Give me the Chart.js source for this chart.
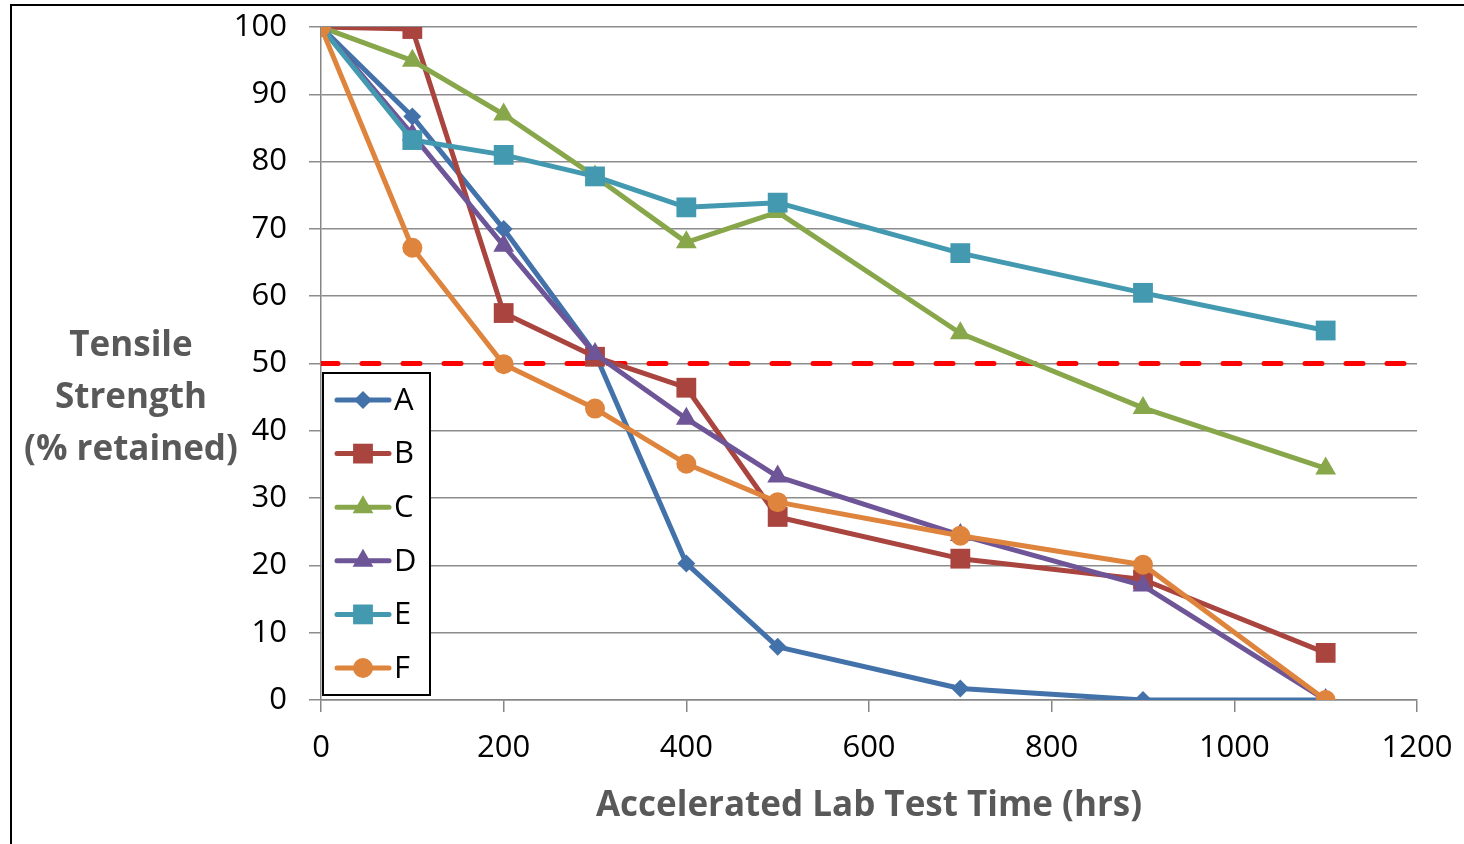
<!DOCTYPE html>
<html>
<head>
<meta charset="utf-8">
<script src="https://cdn.jsdelivr.net/npm/chart.js@4.4.1/dist/chart.umd.min.js"></script>
<style>
  html, body { margin: 0; padding: 0; background: #fff; overflow: hidden; }
  #frame { position: absolute; left: 10px; top: 4px; width: 1600px; height: 1000px; border: 2px solid #000; pointer-events: none; }
  #wrap { position: absolute; left: 0; top: 0; width: 1464px; height: 844px; }
</style>
</head>
<body>
<div id="wrap"><canvas id="tensileChart" width="1464" height="844"></canvas></div>
<div id="frame"></div>
<script>
// test times (hrs)
const hours = [0, 100, 200, 300, 400, 500, 700, 900, 1100];

// tensile strength retained (%) per sample
const seriesA = [100, 86.7, 70.0, 51.5, 20.3, 7.9, 1.7, 0, 0];
const seriesB = [100, 99.7, 57.5, 51.0, 46.4, 27.2, 21.0, 17.9, 7.0];
const seriesC = [100, 95.0, 87.0, 77.8, 68.0, 72.5, 54.5, 43.4, 34.4];
const seriesD = [100, 84.0, 67.5, 51.4, 41.8, 33.2, 24.5, 17.0, 0];
const seriesE = [100, 83.2, 81.0, 77.8, 73.2, 73.9, 66.4, 60.5, 54.9];
const seriesF = [100, 67.2, 49.9, 43.3, 35.1, 29.4, 24.4, 20.1, 0];

// 50% threshold line
const thresholdX = [0, 1200];
const thresholdY = [50, 50];

const seriesNames = ["A", "B", "C", "D", "E", "F"];
const xTicks = [0, 200, 400, 600, 800, 1000, 1200];

const FONT = "'Open Sans', 'DejaVu Sans', sans-serif";

function toPoints(xs, ys) {
  return xs.map((x, i) => ({ x: x, y: ys[i] }));
}

function makeSeries(name, values, color, style, radius, order) {
  return {
    label: name,
    data: toPoints(hours, values),
    borderColor: color,
    backgroundColor: color,
    borderWidth: 5,
    borderCapStyle: "round",
    borderJoinStyle: "round",
    pointStyle: style,
    pointRadius: radius,
    pointBorderWidth: 0,
    pointBackgroundColor: color,
    showLine: true,
    order: order,
  };
}

const datasets = [
  makeSeries("A", seriesA, "#4372AA", "rectRot", 9, 5),
  makeSeries("B", seriesB, "#A9443F", "rect", 14, 4),
  makeSeries("C", seriesC, "#88A64A", "triangle", 12, 3),
  makeSeries("D", seriesD, "#6E5597", "triangle", 12, 2),
  makeSeries("E", seriesE, "#4399B0", "rect", 14, 1),
  makeSeries("F", seriesF, "#DE843D", "circle", 10, 0),
  {
    label: "50%",
    data: toPoints(thresholdX, thresholdY),
    borderColor: "#FF0000",
    borderWidth: 5,
    borderDash: [17, 24],
    borderCapStyle: "round",
    pointRadius: 0,
    showLine: true,
    order: 10,
  },
];

// axis titles and the boxed legend, drawn onto the canvas
const decorations = {
  id: "decorations",
  afterDraw(chart) {
    const ctx = chart.ctx;
    ctx.save();
    ctx.fillStyle = "#595959";
    ctx.font = "bold 35px " + FONT;
    ctx.textAlign = "center";
    ctx.textBaseline = "middle";
    ctx.fillText("Tensile", 131, 346);
    ctx.fillText("Strength", 131, 398);
    ctx.fillText("(% retained)", 131, 450);
    ctx.fillText("Accelerated Lab Test Time (hrs)", 869, 806);

    // legend box
    const box = { left: 323, top: 373, right: 430, bottom: 695 };
    ctx.fillStyle = "#fff";
    ctx.fillRect(box.left, box.top, box.right - box.left, box.bottom - box.top);
    ctx.strokeStyle = "#000";
    ctx.lineWidth = 2;
    ctx.strokeRect(box.left, box.top, box.right - box.left, box.bottom - box.top);

    ctx.font = "31px " + FONT;
    ctx.textAlign = "left";
    seriesNames.forEach((name, i) => {
      const ds = chart.data.datasets[i];
      const y = 400 + i * 53.6;
      ctx.strokeStyle = ds.borderColor;
      ctx.lineWidth = 5;
      ctx.lineCap = "round";
      ctx.beginPath();
      ctx.moveTo(337, y);
      ctx.lineTo(389, y);
      ctx.stroke();
      ctx.fillStyle = ds.borderColor;
      Chart.helpers.drawPoint(ctx, { pointStyle: ds.pointStyle, radius: ds.pointRadius, borderWidth: 0, rotation: 0 }, 363, y);
      ctx.fillStyle = "#000";
      ctx.fillText(name, 394, y + 1);
    });
    ctx.restore();
  },
};

new Chart(document.getElementById("tensileChart"), {
  type: "scatter",
  data: { datasets: datasets },
  options: {
    responsive: false,
    animation: false,
    layout: { padding: { top: 27, right: 47, left: 0, bottom: 0 } },
    plugins: { legend: { display: false }, tooltip: { enabled: false } },
    scales: {
      x: {
        type: "linear",
        min: 0,
        max: 1200,
        afterFit: scale => {
          scale.height = 144;
          scale.paddingLeft = 0;
          scale.paddingRight = 0;
        },
        afterBuildTicks: scale => { scale.ticks = xTicks.map(v => ({ value: v })); },
        ticks: { color: "#000", font: { family: FONT, size: 31 }, padding: 18, maxRotation: 0, callback: v => String(v) },
        grid: { drawOnChartArea: false, tickLength: 12, color: "#868686", lineWidth: 1.5 },
        border: { color: "#868686", width: 1.5 },
      },
      y: {
        min: 0,
        max: 100,
        afterFit: scale => {
          scale.width = 321;
          scale.paddingTop = 0;
          scale.paddingBottom = 0;
        },
        ticks: { stepSize: 10, color: "#000", font: { family: FONT, size: 31 }, padding: 22 },
        grid: { tickLength: 12, color: "#8C8C8C", lineWidth: 1.5 },
        border: { color: "#868686", width: 1.5 },
      },
    },
  },
  plugins: [decorations],
});
</script>
</body>
</html>
